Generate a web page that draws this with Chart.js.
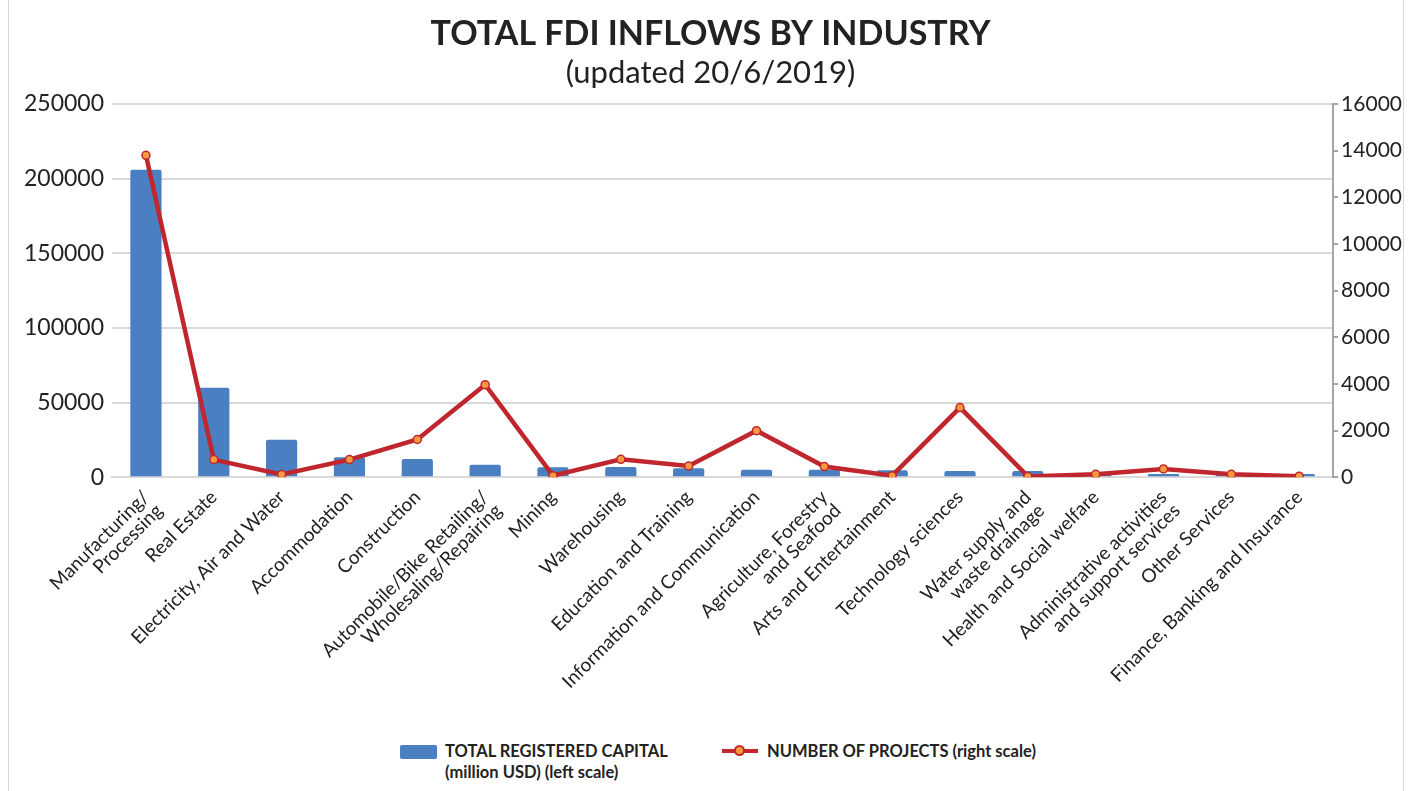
<!DOCTYPE html>
<html>
<head>
<meta charset="utf-8">
<title>Total FDI inflows by industry</title>
<script src="https://cdn.jsdelivr.net/npm/chart.js@4"></script>
<style>
  html, body { margin: 0; padding: 0; background: #fff; }
  #wrap { position: relative; width: 1413px; height: 791px; overflow: hidden; }
  #frame { position: absolute; left: 8px; top: -2px; width: 1396px; height: 800px; border: 1px solid #d9d9d9; box-sizing: border-box; }
  #fdiChart { position: absolute; left: 0; top: 0; }
  .legend { position: absolute; font-family: Lato, sans-serif; font-weight: bold; font-size: 16.5px; color: #222; line-height: 21px; }
  .swatch-bar { position: absolute; width: 37px; height: 14px; background: #4a7fc1; border-radius: 2px; }
  .swatch-line { position: absolute; width: 36px; height: 4px; background: #c0262d; }
  .swatch-dot { position: absolute; width: 7px; height: 7px; border-radius: 50%; background: #f79a3e; border: 2px solid #c0262d; }
</style>
</head>
<body>
<div id="wrap">
  <div id="frame"></div>
  <canvas id="fdiChart" width="1413" height="722"></canvas>
  <div class="swatch-bar" style="left:400px; top:745px;"></div>
  <div class="legend" style="left:445px; top:741px;">TOTAL REGISTERED CAPITAL<br>(million USD) (left scale)</div>
  <div class="swatch-line" style="left:722px; top:749px;"></div>
  <div class="swatch-dot" style="left:734px; top:745px;"></div>
  <div class="legend" style="left:767px; top:741px;">NUMBER OF PROJECTS (right scale)</div>
</div>

<script>
// Industries (multi-line labels are arrays)
const industries = [
  ['Manufacturing/', 'Processing'],
  'Real Estate',
  'Electricity, Air and Water',
  'Accommodation',
  'Construction',
  ['Automobile/Bike Retailing/', 'Wholesaling/Repairing'],
  'Mining',
  'Warehousing',
  'Education and Training',
  'Information and Communication',
  ['Agriculture, Forestry', 'and Seafood'],
  'Arts and Entertainment',
  'Technology sciences',
  ['Water supply and', 'waste drainage'],
  'Health and Social welfare',
  ['Administrative activities', 'and support services'],
  'Other Services',
  'Finance, Banking and Insurance'
];

// Registered capital, million USD (left scale)
const registeredCapital = [206000, 60000, 25100, 13500, 12200, 8400, 6700, 6900, 6000, 5100, 5100, 4700, 4200, 4200, 2300, 2200, 1700, 2200];

// Number of projects (right scale)
const projectCount = [13800, 760, 120, 760, 1620, 3970, 70, 770, 485, 2000, 460, 70, 2990, 40, 130, 360, 130, 50];

// Axis ranges
const capitalMax = 250000;
const capitalStep = 50000;
const projectMax = 16000;
const projectStep = 2000;

const FONT = 'Lato, sans-serif';
const TEXT = '#222';

const ctx = document.getElementById('fdiChart').getContext('2d');

new Chart(ctx, {
  type: 'bar',
  data: {
    labels: industries,
    datasets: [
      {
        type: 'line',
        label: 'NUMBER OF PROJECTS (right scale)',
        data: projectCount,
        yAxisID: 'y2',
        borderColor: '#c0262d',
        borderWidth: 4.5,
        pointRadius: 4,
        pointBorderWidth: 1.5,
        pointBackgroundColor: '#f79a3e',
        pointBorderColor: '#c0262d',
        tension: 0,
        order: 1
      },
      {
        label: 'TOTAL REGISTERED CAPITAL (million USD) (left scale)',
        data: registeredCapital,
        yAxisID: 'y',
        backgroundColor: '#4a7fc1',
        borderRadius: 2,
        categoryPercentage: 1,
        barPercentage: 0.46,
        order: 2
      }
    ]
  },
  options: {
    responsive: false,
    animation: false,
    layout: { padding: { left: 16, right: 8, top: 8, bottom: 15 } },
    plugins: {
      legend: { display: false },
      tooltip: { enabled: false },
      title: {
        display: true,
        text: 'TOTAL FDI INFLOWS BY INDUSTRY',
        color: TEXT,
        font: { family: FONT, size: 34, weight: 'bold' },
        padding: { top: 6, bottom: 0 }
      },
      subtitle: {
        display: true,
        text: '(updated 20/6/2019)',
        color: TEXT,
        font: { family: FONT, size: 31 },
        padding: { top: 0, bottom: 12 }
      }
    },
    scales: {
      x: {
        grid: { display: false },
        border: { display: true, color: '#d9d9d9', width: 2 },
        ticks: {
          color: TEXT,
          font: { family: FONT, size: 19, lineHeight: 1.0 },
          minRotation: 45,
          maxRotation: 45,
          autoSkip: false,
          padding: 2
        }
      },
      y: {
        position: 'left',
        min: 0,
        max: capitalMax,
        grid: { color: '#d9d9d9', lineWidth: 2, drawTicks: false },
        border: { display: false },
        ticks: {
          stepSize: capitalStep,
          color: TEXT,
          font: { family: FONT, size: 23 },
          padding: 8,
          callback: v => String(v)
        }
      },
      y2: {
        position: 'right',
        min: 0,
        max: projectMax,
        grid: { drawOnChartArea: false, drawTicks: true, tickLength: 5, color: '#a6a6a6', lineWidth: 2 },
        border: { display: true, color: '#a6a6a6', width: 2 },
        ticks: {
          stepSize: projectStep,
          color: TEXT,
          font: { family: FONT, size: 21 },
          padding: 3,
          callback: v => String(v)
        }
      }
    }
  }
});
</script>
</body>
</html>
